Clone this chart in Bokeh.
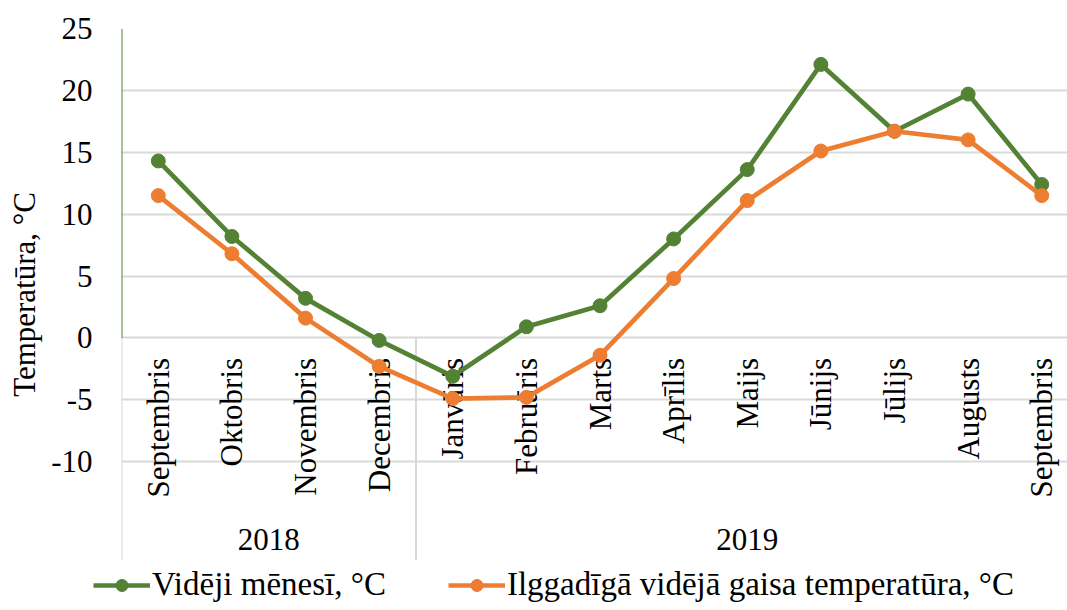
from bokeh.plotting import figure
from bokeh.models import Range1d, FixedTicker, Legend, LegendItem, CustomJSTickFormatter
from bokeh.layouts import column
from bokeh.core.properties import value
from bokeh.embed import file_html
from bokeh.resources import INLINE
import math

months = ["Septembris", "Oktobris", "Novembris", "Decembris", "Janvāris", "Februāris",
          "Marts", "Aprīlis", "Maijs", "Jūnijs", "Jūlijs", "Augusts", "Septembris"]
years = ["2018", "2019"]
year_sizes = [4, 9]
monthly = [14.3, 8.2, 3.2, -0.2, -3.1, 0.9, 2.6, 8.0, 13.6, 22.1, 16.7, 19.7, 12.4]
longterm = [11.5, 6.8, 1.6, -2.3, -4.9, -4.8, -1.4, 4.8, 11.1, 15.1, 16.7, 16.0, 11.5]
y_ticks = [-10, -5, 0, 5, 10, 15, 20, 25]
name_monthly = "Vidēji mēnesī, °C"
name_longterm = "Ilggadīgā vidējā gaisa temperatūra, °C"

GREEN = "#548235"
ORANGE = "#ED7D31"
GRID = "#d9d9d9"
FONT = "Liberation Serif"
FS = "31px"

xs = list(range(len(months)))
y_bottom = -17.98

p = figure(width=1067, height=560, output_backend="svg", toolbar_location=None,
           x_range=Range1d(-0.5, 12.35), y_range=Range1d(y_bottom, 25),
           min_border_left=121, min_border_right=0, min_border_top=28, min_border_bottom=0)
p.frame_align = False
p.outline_line_color = None
p.background_fill_color = "white"

p.xaxis.visible = False
p.xgrid.visible = False
p.yaxis.ticker = FixedTicker(ticks=y_ticks)
p.yaxis.formatter = CustomJSTickFormatter(code="return tick.toString();")
p.ygrid.ticker = FixedTicker(ticks=y_ticks)
p.ygrid.grid_line_color = GRID
p.ygrid.grid_line_width = 2
p.yaxis.axis_line_color = None
p.yaxis.major_tick_line_color = None
p.yaxis.minor_tick_line_color = None
p.yaxis.major_tick_out = 0
p.yaxis.major_tick_in = 0
p.yaxis.major_label_standoff = 29
p.yaxis.major_label_text_font = FONT
p.yaxis.major_label_text_font_size = FS
p.yaxis.major_label_text_color = "black"
p.yaxis.axis_label = "Temperatūra, °C"
p.yaxis.axis_label_text_font = FONT
p.yaxis.axis_label_text_font_size = FS
p.yaxis.axis_label_text_font_style = "normal"
p.yaxis.axis_label_text_color = "black"
p.yaxis.axis_label_standoff = 6

# value axis line (green, from 0 up to top)
p.segment(x0=[-0.5], y0=[0], x1=[-0.5], y1=[max(y_ticks)], line_color=GREEN, line_width=2)

# category group separators
bounds = [-0.5]
for s in year_sizes:
    bounds.append(bounds[-1] + s)
p.segment(x0=bounds, y0=[0] * len(bounds), x1=bounds, y1=[y_bottom] * len(bounds),
          line_color=GRID, line_width=2)

# month labels
p.text(x=xs, y=[0] * len(xs), text=months, angle=math.pi / 2, text_align="right",
       text_baseline="middle", y_offset=20, text_font=value(FONT), text_font_size=FS,
       text_color="black")

# year labels
centers = [(bounds[i] + bounds[i + 1]) / 2 for i in range(len(years))]
p.text(x=centers, y=[-16.26] * len(years), text=years, text_align="center",
       text_baseline="middle", text_font=value(FONT), text_font_size=FS, text_color="black")

p.line(xs, monthly, line_color=GREEN, line_width=4.7)
p.scatter(xs, monthly, size=14, fill_color=GREEN, line_color=GREEN)
p.line(xs, longterm, line_color=ORANGE, line_width=4.7)
p.scatter(xs, longterm, size=14, fill_color=ORANGE, line_color=ORANGE)

# legend strip below the chart (same series, drawn outside its visible range)
p2 = figure(width=1067, height=49, output_backend="svg", toolbar_location=None,
            x_range=Range1d(-0.5, 12.35), y_range=Range1d(100, 101),
            x_axis_location=None, y_axis_location=None,
            min_border_left=0, min_border_right=0, min_border_top=0, min_border_bottom=0)
p2.frame_align = False
p2.outline_line_color = None
p2.grid.visible = False
k1 = p2.line(xs, monthly, line_color=GREEN, line_width=4.7)
m1 = p2.scatter(xs, monthly, size=14, fill_color=GREEN, line_color=GREEN)
k2 = p2.line(xs, longterm, line_color=ORANGE, line_width=4.7)
m2 = p2.scatter(xs, longterm, size=14, fill_color=ORANGE, line_color=ORANGE)

legend = Legend(items=[LegendItem(label=name_monthly, renderers=[k1, m1]),
                       LegendItem(label=name_longterm, renderers=[k2, m2])],
                orientation="horizontal", location=(93, 6))
legend.label_text_font = FONT
legend.label_text_font_size = "33px"
legend.label_text_color = "black"
legend.glyph_width = 57
legend.glyph_height = 30
legend.label_standoff = 2
legend.spacing = 62
legend.padding = 0
legend.margin = 0
legend.border_line_color = None
legend.background_fill_alpha = 0
p2.add_layout(legend, "center")

layout = column(p, p2, spacing=0)
open("out.html", "w").write(file_html(layout, INLINE))
